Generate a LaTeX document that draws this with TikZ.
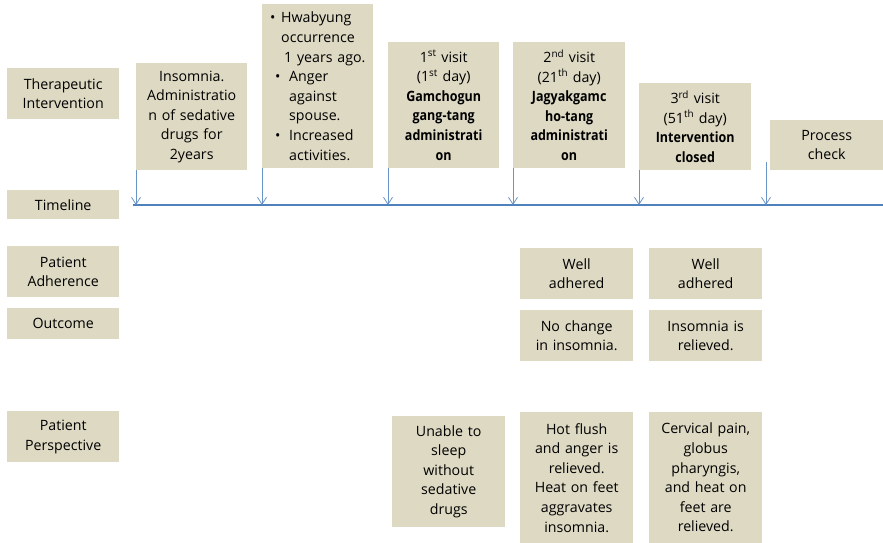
\documentclass[tikz,border=0pt]{standalone}
\usepackage{fontspec}
\setmainfont{Open Sans}[BoldFeatures={FakeStretch=0.88}]
\usetikzlibrary{arrows.meta}
\definecolor{boxtan}{HTML}{DDD9C3}
\definecolor{tlblue}{HTML}{4F81BD}
\begin{document}
\begin{tikzpicture}[x=1pt,y=-1pt,
  box/.style={fill=boxtan, draw=none, inner sep=0pt, anchor=north west, align=center,
    font=\fontsize{14.2}{19.6}\selectfont},
  tlarrow/.style={draw=tlblue!85, line width=0.8pt, -{Straight Barb[length=7pt,width=9pt]}},
  tline/.style={draw=tlblue, line width=2.8pt}]
\useasboundingbox (0,0) rectangle (883,543);
% left labels
\node[box, minimum width=112, minimum height=51, text width=112] (lti) at (7,68) {Therapeutic\\Intervention};
\node[box, minimum width=112, minimum height=29, text width=112] (ltl) at (7,190) {Timeline};
\node[box, minimum width=112, minimum height=51, text width=112] (lad) at (7,246) {Patient\\Adherence};
\node[box, minimum width=112, minimum height=31, text width=112] (lou) at (7,308) {Outcome};
\node[box, minimum width=112, minimum height=51, text width=112] (lpp) at (7,411) {Patient\\Perspective};
% top boxes
\node[box, minimum width=111, minimum height=107, text width=111] (b1) at (136,63)
  {Insomnia.\\Administratio\\n of sedative\\drugs for\\2years};
\node[box, minimum width=111, minimum height=164, text width=107, align=left] (b2) at (262,4)
  {\hspace*{6pt}\makebox[11pt][l]{•}Hwabyung\\
   \hspace*{17pt}occurrence\\
   \hspace*{20pt}1 years ago.\\
   \hspace*{11pt}\makebox[14pt][l]{•}Anger\\
   \hspace*{25pt}against\\
   \hspace*{25pt}spouse.\\
   \hspace*{11pt}\makebox[14pt][l]{•}Increased\\
   \hspace*{25pt}activities.};
\node[box, minimum width=111, minimum height=126, text width=111] (b3) at (388,42)
  {1\textsuperscript{st} visit\\(1\textsuperscript{st} day)\\\textbf{Gamchogun}\\\textbf{gang-tang}\\\textbf{administrati}\\\textbf{on}};
\node[box, minimum width=112, minimum height=126, text width=112] (b4) at (513,42)
  {2\textsuperscript{nd} visit\\(21\textsuperscript{th} day)\\\textbf{Jagyakgamc}\\\textbf{ho-tang}\\\textbf{administrati}\\\textbf{on}};
\node[box, minimum width=112, minimum height=87, text width=112] (b5) at (639,83)
  {3\textsuperscript{rd} visit\\(51\textsuperscript{th} day)\\\textbf{Intervention}\\\textbf{closed}};
\node[box, minimum width=113, minimum height=50, text width=113] (b6) at (770,120)
  {Process\\check};
% adherence / outcome
\node[box, minimum width=113, minimum height=51, text width=113] (ad1) at (520,248) {Well\\adhered};
\node[box, minimum width=113, minimum height=51, text width=113] (ad2) at (649,248) {Well\\adhered};
\node[box, minimum width=113, minimum height=51, text width=113] (ou1) at (520,310) {No change\\in insomnia.};
\node[box, minimum width=113, minimum height=51, text width=113] (ou2) at (649,310) {Insomnia is\\relieved.};
% perspective
\node[box, minimum width=113, minimum height=111, text width=113] (pp1) at (392,416)
  {Unable to\\sleep\\without\\sedative\\drugs};
\node[box, minimum width=113, minimum height=131, text width=113] (pp2) at (520,412)
  {Hot flush\\and anger is\\relieved.\\Heat on feet\\aggravates\\insomnia.};
\node[box, minimum width=113, minimum height=131, text width=113] (pp3) at (649,412)
  {Cervical pain,\\globus\\pharyngis,\\and heat on\\feet are\\relieved.};
% timeline
\coordinate (tls) at (133,205);
\coordinate (tle) at (883,205);
\draw[tline] (tls) -- (tle);
\coordinate (a6) at (766,162);
\foreach \b in {b1,b2,b3,b4,b5}{
  \draw[tlarrow] (\b.south west) -- (\b.south west |- tls);
}
\draw[tlarrow] (a6) -- (a6 |- tls);
\end{tikzpicture}
\end{document}
